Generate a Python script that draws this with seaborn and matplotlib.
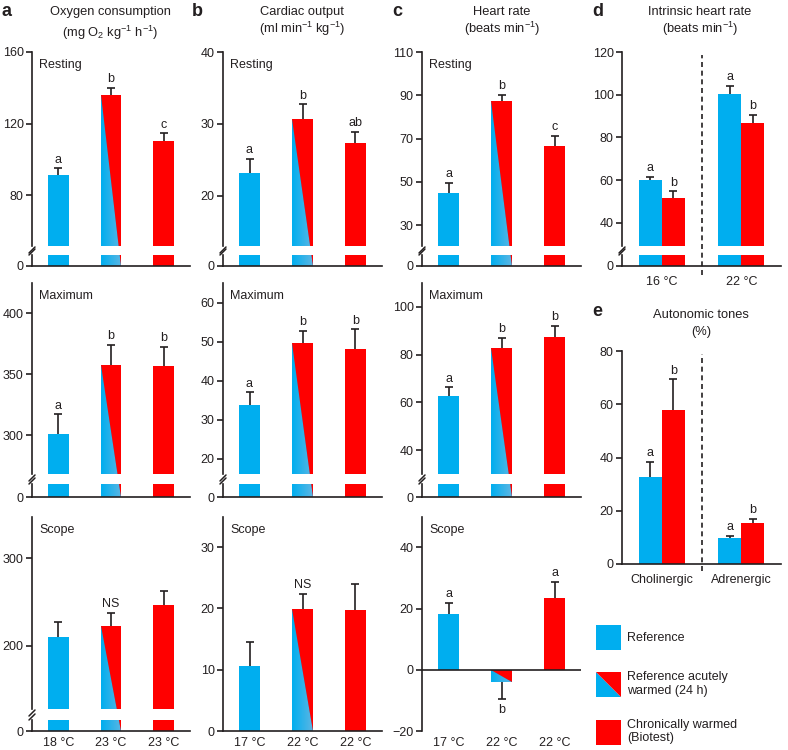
import numpy as np
import matplotlib
matplotlib.use('Agg')
import matplotlib.pyplot as plt
import matplotlib.transforms as mtransforms
import matplotlib.patches as mpatches
import seaborn as sns
from matplotlib.patches import Polygon
from matplotlib.colors import LinearSegmentedColormap
from matplotlib.legend_handler import HandlerBase

# -------------------------- data --------------------------
GROUPS = ['Reference', 'Acute', 'Chronic']
TEMPS_A = ['18 °C', '23 °C', '23 °C']
TEMPS_BC = ['17 °C', '22 °C', '22 °C']

# a: oxygen consumption
O2_REST = [91, 136, 110.5]
O2_REST_ERR = [4, 4, 4]
O2_REST_SIG = ['a', 'b', 'c']
O2_MAX = [301, 358, 357]
O2_MAX_ERR = [16, 16, 15.5]
O2_MAX_SIG = ['a', 'b', 'b']
O2_SCOPE = [210, 222, 246.5]
O2_SCOPE_ERR = [17, 15, 15.5]
O2_SCOPE_SIG = ['', 'NS', '']

# b: cardiac output
CO_REST = [23.1, 30.7, 27.3]
CO_REST_ERR = [2.0, 2.0, 1.6]
CO_REST_SIG = ['a', 'b', 'ab']
CO_MAX = [33.8, 49.6, 48.2]
CO_MAX_ERR = [3.2, 3.2, 4.9]
CO_MAX_SIG = ['a', 'b', 'b']
CO_SCOPE = [10.6, 19.85, 19.7]
CO_SCOPE_ERR = [3.9, 2.55, 4.2]
CO_SCOPE_SIG = ['', 'NS', '']

# c: heart rate
HR_REST = [44.8, 87.4, 66.5]
HR_REST_ERR = [4.6, 2.9, 4.6]
HR_REST_SIG = ['a', 'b', 'c']
HR_MAX = [62.6, 82.9, 87.5]
HR_MAX_ERR = [3.7, 4.1, 4.4]
HR_MAX_SIG = ['a', 'b', 'b']
HR_SCOPE = [18.2, -3.9, 23.3]
HR_SCOPE_ERR = [3.6, 5.6, 5.4]
HR_SCOPE_SIG = ['a', 'b', 'a']

# d: intrinsic heart rate
D_TEMPS = ['16 °C', '22 °C']
D_REF = [60.0, 100.5]
D_REF_ERR = [1.6, 3.8]
D_BIO = [51.7, 86.9]
D_BIO_ERR = [3.0, 3.6]

# e: autonomic tones
E_TYPES = ['Cholinergic', 'Adrenergic']
E_REF = [32.8, 9.9]
E_REF_ERR = [5.6, 0.7]
E_BIO = [58.0, 15.3]
E_BIO_ERR = [11.3, 1.5]

# -------------------------- style --------------------------
BLUE = '#00aeef'
BLUE_FADE = '#5cb6e4'
RED = '#ff0000'
INK = '#231f20'
FS = 9
BAR_W = 0.39
PAIR_W = 0.58

sns.set_style('ticks')
plt.rcParams['font.family'] = ['Liberation Sans', 'DejaVu Sans']
plt.rcParams['mathtext.fontset'] = 'custom'
plt.rcParams['mathtext.rm'] = 'Liberation Sans'
plt.rcParams['mathtext.it'] = 'Liberation Sans:italic'
plt.rcParams['mathtext.default'] = 'regular'
plt.rcParams['axes.edgecolor'] = INK
plt.rcParams['axes.linewidth'] = 1.2
plt.rcParams['text.color'] = INK
plt.rcParams['xtick.color'] = INK
plt.rcParams['ytick.color'] = INK
plt.rcParams['axes.facecolor'] = 'none'

W, H = 788, 750
fig = plt.figure(figsize=(W / 100, H / 100), dpi=100)

# layout in pixels (top/bottom of main and stub axes)
ROW1 = {'main': (52, 246), 'stub': (255, 266)}
ROW2 = {'main': (283, 474), 'stub': (484, 497)}
ROW3 = {'main': (517, 709), 'stub': (720, 731)}
XA, XB, XC, XD = (32, 190), (223, 382), (422, 581), (622, 781)

FADE = LinearSegmentedColormap.from_list('fade', [BLUE, BLUE_FADE])


def add_px(xr, ytop, ybot):
    return fig.add_axes([xr[0] / W, 1 - ybot / H, (xr[1] - xr[0]) / W, (ybot - ytop) / H])


def style_ax(ax, show_bottom):
    sns.despine(ax=ax, bottom=not show_bottom)
    ax.tick_params(axis='y', length=4, width=1.2, labelsize=FS, pad=2)
    ax.tick_params(axis='x', length=0, labelsize=FS, pad=4)
    ax.set(xlabel='', ylabel='')


def break_mark(ax, at_top):
    y = 1 if at_top else 0
    tr = fig.dpi_scale_trans + mtransforms.ScaledTranslation(0, y, ax.transAxes)
    dy = [0.0, 0.06] if at_top else [-0.07, -0.01]
    ax.plot([-0.03, 0.03], dy, transform=tr, color=INK, lw=1.1, clip_on=False)


def up_errors(ax, xs, vals, errs, sigs):
    for x, v, e, s in zip(xs, vals, errs, sigs):
        end = v + e if v >= 0 else v - e
        ax.plot([x, x], [v, end], color=INK, lw=1.2, zorder=3, solid_capstyle='butt')
        ax.plot([x], [end], marker='_', ms=6, mew=1.2, color=INK, zorder=3)
        if s:
            if v >= 0:
                ax.annotate(s, (x, end), xytext=(0, 2), textcoords='offset points',
                            ha='center', va='bottom', fontsize=FS)
            else:
                ax.annotate(s, (x, end), xytext=(0, -4), textcoords='offset points',
                            ha='center', va='top', fontsize=FS)


def diagonal(axs, i, val):
    # split bar: faded blue lower-left triangle, red upper-right triangle
    top_ax, base_ax = axs[0], axs[-1]
    x0, x1 = i - BAR_W / 2, i + BAR_W / 2
    hi, lo = max(val, 0), min(val, 0)
    tl = top_ax.transData.transform((x0, hi))
    tr = top_ax.transData.transform((x1, hi))
    br = base_ax.transData.transform((x1, lo))
    bl = base_ax.transData.transform((x0, lo))
    for ax in axs:
        inv = ax.transData.inverted()
        ylo, yhi = ax.get_ylim()
        blue_tri = Polygon(inv.transform(np.array([tl, bl, br])), closed=True,
                           facecolor='none', lw=0, transform=ax.transData)
        ax.add_patch(blue_tri)
        img = ax.imshow(np.linspace(0, 1, 64).reshape(1, -1), cmap=FADE, aspect='auto',
                        extent=[x0, x1, ylo, yhi], zorder=1.9, interpolation='bilinear')
        img.set_clip_path(blue_tri)
        ax.add_patch(Polygon(inv.transform(np.array([tl, tr, br])), closed=True,
                             facecolor=RED, lw=0, zorder=2))
        ax.set_ylim(ylo, yhi)
        ax.set_xlim(-0.5, 2.5)


def trio_panel(xr, row, vals, errs, sigs, ylim, yticks, tag, xlabels=None, broken=True):
    if broken:
        axs = [add_px(xr, *row['main']), add_px(xr, *row['stub'])]
    else:
        axs = [add_px(xr, row['main'][0], row['stub'][1])]
    main = axs[0]
    for ax in axs:
        sns.barplot(x=GROUPS, y=vals, hue=GROUPS, palette=[BLUE, BLUE, RED],
                    width=BAR_W, saturation=1, linewidth=0, legend=False,
                    errorbar=None, ax=ax)
        ax.set_xlim(-0.5, 2.5)
    main.set_ylim(*ylim)
    main.set_yticks(yticks)
    if broken:
        stub = axs[1]
        stub.set_ylim(0, 1)
        stub.set_yticks([0])
        style_ax(main, False)
        style_ax(stub, True)
        main.set_xticks([])
        bottom_ax = stub
    else:
        style_ax(main, ylim[0] >= 0)
        if ylim[0] < 0:
            main.axhline(0, color=INK, lw=1.2, zorder=2.6)
        bottom_ax = main
    if xlabels:
        bottom_ax.set_xticks(range(3))
        bottom_ax.set_xticklabels(xlabels)
    else:
        bottom_ax.set_xticks([])
    diagonal(axs, 1, vals[1])
    up_errors(main, range(3), vals, errs, sigs)
    main.annotate(tag, xy=(0, 1), xycoords='axes fraction', xytext=(7, -7),
                  textcoords='offset pixels', ha='left', va='top', fontsize=FS)
    if broken:
        break_mark(main, False)
        break_mark(axs[1], True)
    return axs


def pair_bars(ax, cats, ref, bio):
    sns.barplot(x=cats + cats, y=ref + bio,
                hue=['Reference'] * len(cats) + ['Biotest'] * len(cats),
                palette=[BLUE, RED], width=PAIR_W, gap=0, saturation=1,
                linewidth=0, legend=False, errorbar=None, ax=ax)
    ax.set_xlim(-0.5, 1.5)


# -------------------------- a --------------------------
trio_panel(XA, ROW1, O2_REST, O2_REST_ERR, O2_REST_SIG, (51.6, 160), [80, 120, 160], 'Resting')
trio_panel(XA, ROW2, O2_MAX, O2_MAX_ERR, O2_MAX_SIG, (268, 425), [300, 350, 400], 'Maximum')
trio_panel(XA, ROW3, O2_SCOPE, O2_SCOPE_ERR, O2_SCOPE_SIG, (127.6, 347), [200, 300], 'Scope',
           xlabels=TEMPS_A)

# -------------------------- b --------------------------
trio_panel(XB, ROW1, CO_REST, CO_REST_ERR, CO_REST_SIG, (13, 40), [20, 30, 40], 'Resting')
trio_panel(XB, ROW2, CO_MAX, CO_MAX_ERR, CO_MAX_SIG, (16.1, 65), [20, 30, 40, 50, 60], 'Maximum')
trio_panel(XB, ROW3, CO_SCOPE, CO_SCOPE_ERR, CO_SCOPE_SIG, (0, 34.9), [0, 10, 20, 30], 'Scope',
           xlabels=TEMPS_BC, broken=False)

# -------------------------- c --------------------------
trio_panel(XC, ROW1, HR_REST, HR_REST_ERR, HR_REST_SIG, (20.3, 110), [30, 50, 70, 90, 110], 'Resting')
trio_panel(XC, ROW2, HR_MAX, HR_MAX_ERR, HR_MAX_SIG, (30, 110), [40, 60, 80, 100], 'Maximum')
trio_panel(XC, ROW3, HR_SCOPE, HR_SCOPE_ERR, HR_SCOPE_SIG, (-20, 49.9), [-20, 0, 20, 40], 'Scope',
           xlabels=TEMPS_BC, broken=False)

# -------------------------- d --------------------------
d_main = add_px(XD, *ROW1['main'])
d_stub = add_px(XD, *ROW1['stub'])
for ax in (d_main, d_stub):
    pair_bars(ax, D_TEMPS, D_REF, D_BIO)
d_main.set_ylim(29.1, 120)
d_main.set_yticks([40, 60, 80, 100, 120])
d_stub.set_ylim(0, 1)
d_stub.set_yticks([0])
style_ax(d_main, False)
style_ax(d_stub, True)
d_main.set_xticks([])
d_stub.set_xticks(range(2))
d_stub.set_xticklabels(D_TEMPS)
d_stub.tick_params(axis='x', pad=7)
off = PAIR_W / 4
up_errors(d_main, [0 - off, 1 - off], D_REF, D_REF_ERR, ['a', 'a'])
up_errors(d_main, [0 + off, 1 + off], D_BIO, D_BIO_ERR, ['b', 'b'])
d_main.axvline(0.5, ymin=-0.15, ymax=0.985, color=INK, lw=1.2, ls=(0, (3, 2.2)), clip_on=False)
break_mark(d_main, False)
break_mark(d_stub, True)

# -------------------------- e --------------------------
e_ax = add_px(XD, 351, 564)
pair_bars(e_ax, E_TYPES, E_REF, E_BIO)
e_ax.set_ylim(0, 80)
e_ax.set_yticks([0, 20, 40, 60, 80])
style_ax(e_ax, True)
e_ax.set_xticks(range(2))
e_ax.set_xticklabels(E_TYPES)
e_ax.tick_params(axis='x', pad=7)
up_errors(e_ax, [0 - off, 1 - off], E_REF, E_REF_ERR, ['a', 'a'])
up_errors(e_ax, [0 + off, 1 + off], E_BIO, E_BIO_ERR, ['b', 'b'])
e_ax.axvline(0.5, ymin=-0.035, ymax=0.986, color=INK, lw=1.2, ls=(0, (3, 2.2)), clip_on=False)

# -------------------------- titles --------------------------
def ftext(x, y, s, **kw):
    fig.text(x / W, 1 - y / H, s, ha=kw.pop('ha', 'center'), va='center', **kw)

for x, y, s in [(2, 12, 'a'), (192, 12, 'b'), (392, 12, 'c'), (592, 12, 'd'), (592, 311, 'e')]:
    ftext(x, y, s, ha='left', fontsize=13, fontweight='bold')

ftext(110, 12, 'Oxygen consumption', fontsize=FS + 0.3)
ftext(110, 33, '(mg O$_2$ kg$^{-1}$ h$^{-1}$)', fontsize=FS + 0.3)
ftext(302, 12, 'Cardiac output', fontsize=FS + 0.3)
ftext(302, 29, '(ml min$^{-1}$ kg$^{-1}$)', fontsize=FS + 0.3)
ftext(502, 12, 'Heart rate', fontsize=FS + 0.3)
ftext(502, 29, '(beats min$^{-1}$)', fontsize=FS + 0.3)
ftext(700, 12, 'Intrinsic heart rate', fontsize=FS + 0.3)
ftext(700, 29, '(beats min$^{-1}$)', fontsize=FS + 0.3)
ftext(701, 315, 'Autonomic tones', fontsize=FS + 0.3)
ftext(701, 332, '(%)', fontsize=FS + 0.3)


# -------------------------- legend --------------------------
class SplitSwatch:
    pass


class SplitHandler(HandlerBase):
    def create_artists(self, legend, orig_handle, xdescent, ydescent, width, height, fontsize, trans):
        x0, y0 = -xdescent, -ydescent
        lo = Polygon([[x0, y0 + height], [x0, y0], [x0 + width, y0]], closed=True,
                     facecolor=BLUE, lw=0, transform=trans)
        hi = Polygon([[x0, y0 + height], [x0 + width, y0 + height], [x0 + width, y0]], closed=True,
                     facecolor=RED, lw=0, transform=trans)
        return [lo, hi]


handles = [mpatches.Patch(facecolor=BLUE, lw=0), SplitSwatch(), mpatches.Patch(facecolor=RED, lw=0)]
labels = ['Reference', 'Reference acutely\nwarmed (24 h)', 'Chronically warmed\n(Biotest)']
fig.legend(handles, labels, handler_map={SplitSwatch: SplitHandler()},
           loc='upper left', bbox_to_anchor=(596 / W, 1 - 625 / H), frameon=False,
           fontsize=FS, handlelength=2.0, handleheight=2.7, handletextpad=0.5,
           labelspacing=1.7, borderpad=0, borderaxespad=0)

fig.savefig('out.png', dpi=100)
